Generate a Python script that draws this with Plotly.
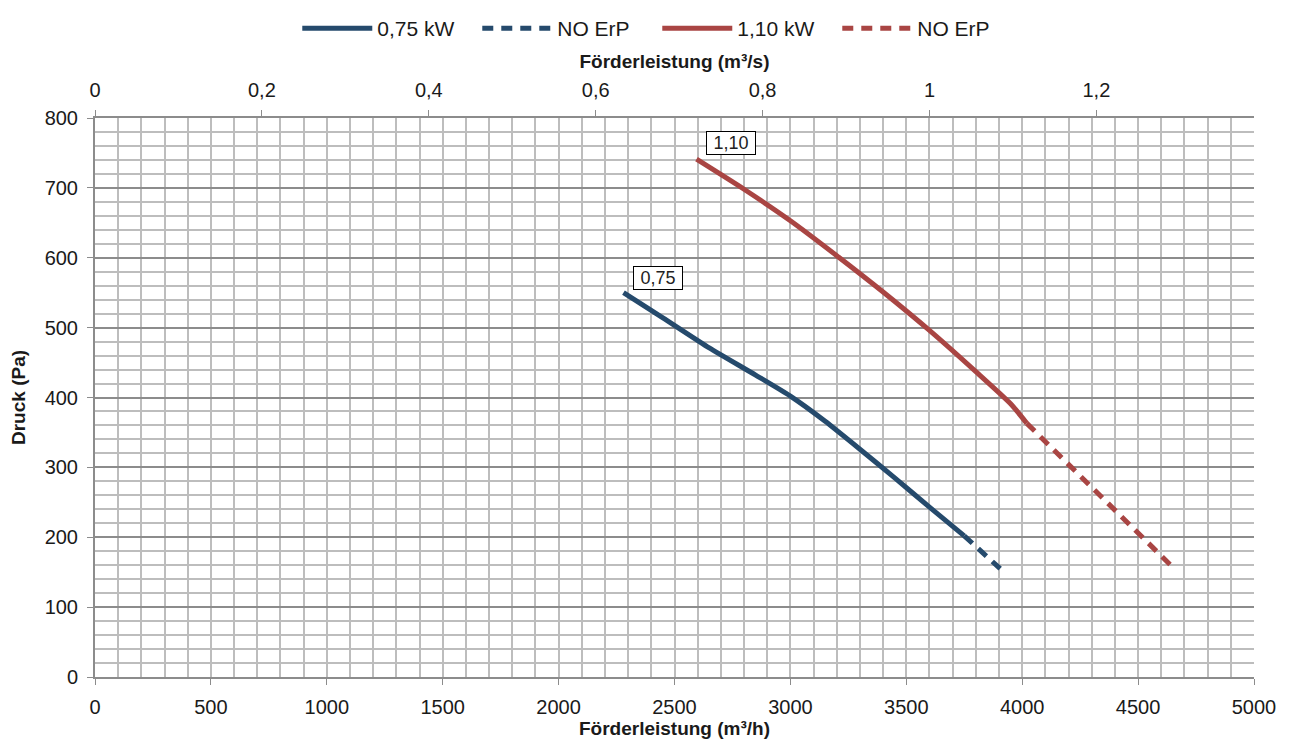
import plotly.graph_objects as go

# Data (m3/h, Pa)
x_075 = [2280, 2450, 2650, 2850, 3000, 3150, 3300, 3450, 3600, 3750]
y_075 = [550, 514, 471, 432, 402, 366, 326, 285, 243, 202]
x_075_ne = [3750, 3905]
y_075_ne = [202, 155]

x_110 = [2595, 2800, 3000, 3200, 3400, 3600, 3800, 3950, 4020]
y_110 = [741, 698, 653, 603, 551, 496, 437, 391, 363]
x_110_ne = [4020, 4650]
y_110_ne = [363, 157]

blue = "#254a6c"
red = "#a94543"
font_fam = "Liberation Sans, Arial, sans-serif"

fig = go.Figure()
fig.add_trace(go.Scatter(x=x_075, y=y_075, mode="lines", name="0,75 kW",
                         line=dict(color=blue, width=5, shape="spline", smoothing=0.6)))
fig.add_trace(go.Scatter(x=x_075_ne, y=y_075_ne, mode="lines", name="NO ErP",
                         line=dict(color=blue, width=5, dash="11px,8px")))
fig.add_trace(go.Scatter(x=x_110, y=y_110, mode="lines", name="1,10 kW",
                         line=dict(color=red, width=5, shape="spline", smoothing=0.6)))
fig.add_trace(go.Scatter(x=x_110_ne, y=y_110_ne, mode="lines", name="NO ErP",
                         line=dict(color=red, width=5, dash="11px,8px")))
# invisible trace to anchor top axis (m3/s)
fig.add_trace(go.Scatter(x=[0, 5000 / 3600], y=[0, 0], xaxis="x2", mode="lines",
                         line=dict(width=0), showlegend=False, hoverinfo="skip"))

for tx, ty, lbl in [(2429, 571, "0,75"), (2744, 764, "1,10")]:
    fig.add_annotation(x=tx, y=ty, text=lbl, showarrow=False, width=44, height=18,
                       bordercolor="#000", borderwidth=1, borderpad=2, bgcolor="white",
                       font=dict(size=18, color="#222", family=font_fam))

grid_minor = "#bdbdbd"
grid_major = "#8c8c8c"

fig.update_layout(
    width=1280, height=733,
    margin=dict(l=87, r=34, t=110, b=64),
    plot_bgcolor="white", paper_bgcolor="white",
    separators=",.",
    font=dict(family=font_fam, size=19, color="#1a1a1a"),
    legend=dict(orientation="h", x=0.226, xref="container", xanchor="left",
                y=1.0, yref="container", yanchor="top",
                font=dict(size=21), itemwidth=70, tracegroupgap=0,
                entrywidth=95, entrywidthmode="pixels"),
    xaxis=dict(range=[0, 5000], dtick=500, tick0=0, showgrid=True, gridcolor=grid_minor,
               gridwidth=1.5, showline=True, linecolor=grid_major, linewidth=2,
               ticks="outside", ticklen=6, tickcolor=grid_major, ticklabelstandoff=5,
               tickfont=dict(size=20),
               minor=dict(dtick=100, showgrid=True, gridcolor=grid_minor, gridwidth=1.5),
               zeroline=False, automargin=False,
               title=dict(text="<b>Förderleistung (m³/h)</b>", font=dict(size=19), standoff=5)),
    xaxis2=dict(overlaying="x", side="top", range=[0, 5000 / 3600], dtick=0.2, tick0=0,
                showgrid=False, showline=True, linecolor=grid_major, linewidth=2,
                ticks="outside", ticklen=6, tickcolor=grid_major, zeroline=False,
                ticklabelstandoff=5, automargin=False, tickfont=dict(size=20),
                title=dict(text="<b>Förderleistung (m³/s)</b>", font=dict(size=19), standoff=5)),
    yaxis=dict(range=[0, 800], dtick=100, showgrid=True, gridcolor=grid_major, gridwidth=2,
               showline=True, linecolor=grid_major, linewidth=2,
               ticks="outside", ticklen=6, tickcolor=grid_major, ticklabelstandoff=5,
               tickfont=dict(size=20),
               minor=dict(dtick=20, showgrid=True, gridcolor=grid_minor, gridwidth=1.5),
               zeroline=False, automargin=False,
               title=dict(text="<b>Druck (Pa)</b>", font=dict(size=19), standoff=25)),
)

fig.write_html("out.html")
